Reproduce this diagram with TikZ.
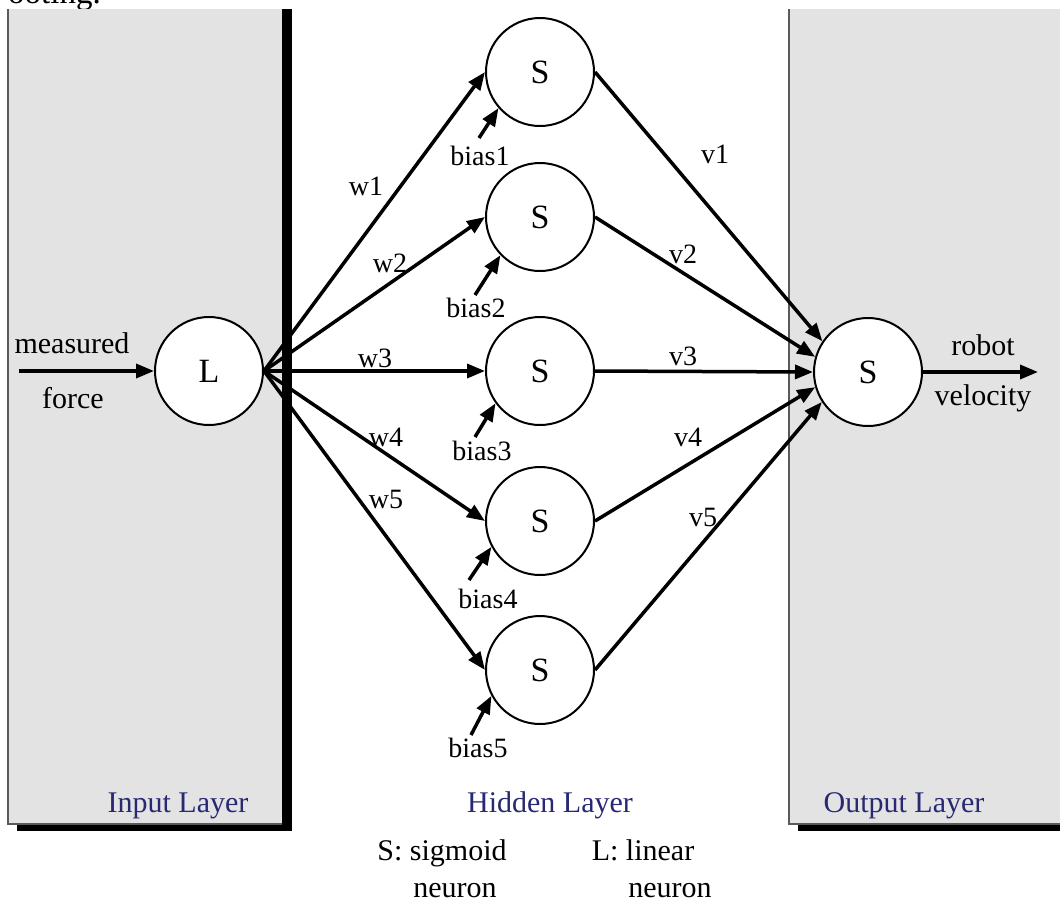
\documentclass[tikz,border=0pt]{standalone}
\usepackage{fontspec}
\setmainfont{Liberation Serif}
\usetikzlibrary{arrows.meta}
\definecolor{layergray}{RGB}{227,227,227}
\definecolor{borderg}{RGB}{90,90,90}
\definecolor{labelblue}{RGB}{40,40,115}
\tikzset{
  neuron/.style={circle, draw=black, line width=2pt, fill=white, minimum size=108pt, inner sep=0pt, font=\fontsize{34}{40}\selectfont},
  conn/.style={line width=3.5pt, -{Triangle[length=18pt,width=14pt]}},
  txt/.style={font=\fontsize{30}{36}\selectfont, inner sep=0pt, anchor=base},
  smalltxt/.style={font=\fontsize{28}{34}\selectfont, inner sep=0pt, anchor=base},
  layertxt/.style={font=\fontsize{30}{36}\selectfont, inner sep=0pt, anchor=base, text=labelblue},
  layerbox/.style={fill=layergray},
  layeredge/.style={draw=borderg, line width=1.5pt},
  shadowbox/.style={fill=black}
}
\begin{document}
\begin{tikzpicture}[x=1pt,y=-1pt]
\useasboundingbox (0,0) rectangle (1060,903);
\clip (0,0) rectangle (1060,903);
\fill[white] (0,0) rectangle (1060,903);
% page text fragment above the figure
\node[font=\fontsize{33}{38}\selectfont, inner sep=0pt, anchor=base east] (pagetext) at (101,3) {ooting.};
% input layer
\fill[shadowbox] (17,9) rectangle (292,831);
\fill[layerbox] (8,9) rectangle (282,824);
\draw[layeredge] (8,9) -- (8,824) -- (282,824);
% output layer
\fill[shadowbox] (798,9) rectangle (1075,831);
\fill[layerbox] (789,9) rectangle (1068,824);
\draw[layeredge] (789,9) -- (789,824) -- (1068,824);
% layer labels
\node[layertxt] (inlab) at (178,812) {Input Layer};
\node[layertxt] (hidlab) at (550,812) {Hidden Layer};
\node[layertxt] (outlab) at (904,812) {Output Layer};
% neurons
\node[neuron] (L) at (209,371) {L};
\node[neuron] (h1) at (540,72) {S};
\node[neuron] (h2) at (540,217) {S};
\node[neuron] (h3) at (540,371) {S};
\node[neuron] (h4) at (540,521) {S};
\node[neuron] (h5) at (540,670) {S};
\node[neuron] (out) at (868,372) {S};
% input and output arrows
\coordinate (inS) at (19,371);
\coordinate (outE) at (1038,372);
\draw[conn] (inS) -- (L.west);
\draw[conn] (out.east) -- (outE);
\node[txt] (meas) at (72,353) {measured};
\node[txt] (force) at (73,408) {force};
\node[txt] (robot) at (983,355) {robot};
\node[txt] (velo) at (983,405) {velocity};
% weights w
\draw[conn] (L.east) -- (h1.west);
\draw[conn] (L.east) -- (h2.west);
\draw[conn] (L.east) -- (h3.west);
\draw[conn] (L.east) -- (h4.west);
\draw[conn] (L.east) -- (h5.west);
\node[smalltxt] (w1) at (366,195) {w1};
\node[smalltxt] (w2) at (390,272) {w2};
\node[smalltxt] (w3) at (375,367) {w3};
\node[smalltxt] (w4) at (386,446) {w4};
\node[smalltxt] (w5) at (386,508) {w5};
% weights v
\draw[conn] (h1.east) -- (out.146);
\draw[conn] (h2.east) -- (out.164);
\draw[conn] (h3.east) -- (out.180);
\draw[conn] (h4.east) -- (out.196);
\draw[conn] (h5.east) -- (out.213);
\node[smalltxt] (v1) at (715,163) {v1};
\node[smalltxt] (v2) at (683,263) {v2};
\node[smalltxt] (v3) at (683,365) {v3};
\node[smalltxt] (v4) at (688,446) {v4};
\node[smalltxt] (v5) at (703,526) {v5};
% biases
\coordinate (b1s) at (479,138);
\coordinate (b2s) at (475,295);
\coordinate (b3s) at (475,437);
\coordinate (b4s) at (469,580);
\coordinate (b5s) at (471,735);
\draw[conn] (b1s) -- (h1.221);
\draw[conn] (b2s) -- (h2.224);
\draw[conn] (b3s) -- (h3.216);
\draw[conn] (b4s) -- (h4.208);
\draw[conn] (b5s) -- (h5.208);
\node[smalltxt] (bias1) at (480,165) {bias1};
\node[smalltxt] (bias2) at (476,317) {bias2};
\node[smalltxt] (bias3) at (482,460) {bias3};
\node[smalltxt] (bias4) at (488,608) {bias4};
\node[smalltxt] (bias5) at (478,757) {bias5};
% legend
\node[txt] (legS) at (442,860) {S: sigmoid};
\node[txt] (legSn) at (455,897) {neuron};
\node[txt] (legL) at (643,860) {L: linear};
\node[txt] (legLn) at (670,897) {neuron};
\end{tikzpicture}
\end{document}
